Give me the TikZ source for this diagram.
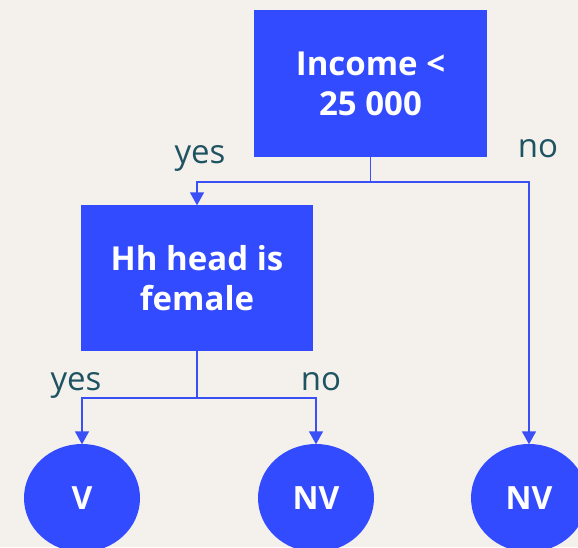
\documentclass[tikz,border=0pt]{standalone}
\usepackage{fontspec}
\setmainfont{Open Sans}
\usetikzlibrary{arrows.meta,shapes.geometric}
\definecolor{bg}{HTML}{F4F0EB}
\definecolor{boxblue}{HTML}{334BFF}
\definecolor{lineblue}{HTML}{3A4FF5}
\definecolor{lbl}{HTML}{1E5361}
\tikzset{
  decision/.style={rectangle, fill=boxblue, text=white, font=\fontsize{33}{40}\selectfont\bfseries, align=center, inner sep=0pt},
  leaf/.style={ellipse, fill=boxblue, text=white, font=\fontsize{32}{36}\selectfont\bfseries, minimum width=116pt, minimum height=108pt, inner sep=0pt},
  conn/.style={draw=lineblue, line width=1.4pt},
  arr/.style={conn, -{Triangle[width=14pt,length=13pt]}, shorten >=-0.5pt},
  lab/.style={text=lbl, font=\fontsize{33}{36}\selectfont, anchor=base, inner sep=0pt}
}
\begin{document}
\begin{tikzpicture}[x=1pt,y=-1pt]
\fill[bg] (0,0) rectangle (578,547);
\useasboundingbox (0,0) rectangle (578,547);
\clip (0,0) rectangle (578,547);
\node[decision, minimum width=233pt, minimum height=147pt] (top) at (370.5,83.5) {Income <\\25 000};
\node[decision, minimum width=232pt, minimum height=146pt] (hh) at (197,278) {Hh head is\\female};
\node[leaf] (v) at (82,498) {V};
\node[leaf] (nv1) at (316,498) {NV};
\node[leaf] (nv2) at (529,498) {NV};
\coordinate (j1) at (370.5,182);
\coordinate (j2) at (197,398);
\draw[conn] (top.south) -- (j1);
\draw[arr] (j1) -| (hh.north);
\draw[arr] (j1) -| (nv2.north);
\draw[conn] (hh.south) -- (j2);
\draw[arr] (j2) -| (v.north);
\draw[arr] (j2) -| (nv1.north);
\node[lab] (l1) at (200,163) {yes};
\node[lab] (l2) at (538,157) {no};
\node[lab] (l3) at (76,390) {yes};
\node[lab] (l4) at (321,390) {no};
\end{tikzpicture}
\end{document}
